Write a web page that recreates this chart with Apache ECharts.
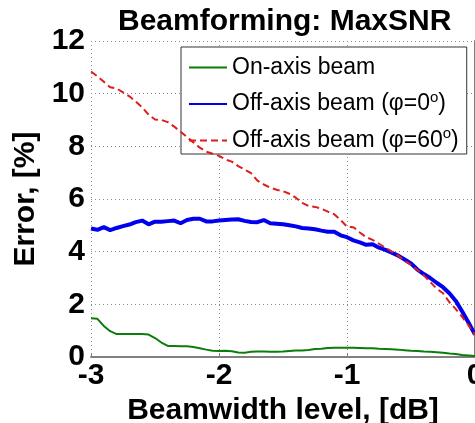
<!DOCTYPE html>
<html>
<head>
<meta charset="utf-8">
<script src="https://cdn.jsdelivr.net/npm/echarts@6/dist/echarts.min.js"></script>
<style>
  html, body { margin: 0; padding: 0; background: #ffffff; }
  #chart { width: 475px; height: 423px; }
</style>
</head>
<body>
<div id="chart"></div>
<script>
// Beamwidth level in dB (x positions of the samples)
const beamwidthDb = [
  -3.00, -2.95, -2.90, -2.85, -2.80, -2.75, -2.70, -2.65, -2.60, -2.55,
  -2.50, -2.45, -2.40, -2.35, -2.30, -2.25, -2.20, -2.15, -2.10, -2.05,
  -2.00, -1.95, -1.90, -1.85, -1.80, -1.75, -1.70, -1.65, -1.60, -1.55,
  -1.50, -1.45, -1.40, -1.35, -1.30, -1.25, -1.20, -1.15, -1.10, -1.05,
  -1.00, -0.95, -0.90, -0.85, -0.80, -0.75, -0.70, -0.65, -0.60, -0.55,
  -0.50, -0.45, -0.40, -0.35, -0.30, -0.25, -0.20, -0.15, -0.10, -0.05,
   0.00
];

// Error in percent, on-axis beam
const onAxisError = [
  1.47, 1.45, 1.18, 0.98, 0.87, 0.87, 0.87, 0.87, 0.87, 0.85,
  0.72, 0.55, 0.42, 0.42, 0.41, 0.41, 0.38, 0.33, 0.28, 0.24,
  0.23, 0.24, 0.22, 0.17, 0.16, 0.20, 0.21, 0.21, 0.20, 0.20,
  0.21, 0.23, 0.25, 0.25, 0.27, 0.30, 0.31, 0.34, 0.35, 0.35,
  0.35, 0.35, 0.34, 0.33, 0.33, 0.31, 0.30, 0.29, 0.28, 0.26,
  0.24, 0.23, 0.21, 0.20, 0.18, 0.16, 0.13, 0.11, 0.08, 0.06,
  0.04
];

// Error in percent, off-axis beam, phi = 0 deg
const offAxis0Error = [
  4.88, 4.83, 4.93, 4.82, 4.90, 4.97, 5.03, 5.12, 5.18, 5.04,
  5.14, 5.14, 5.16, 5.18, 5.08, 5.20, 5.25, 5.25, 5.15, 5.15,
  5.18, 5.20, 5.22, 5.23, 5.17, 5.13, 5.12, 5.20, 5.08, 5.06,
  5.04, 5.00, 4.96, 4.90, 4.88, 4.85, 4.80, 4.76, 4.76, 4.62,
  4.55, 4.43, 4.35, 4.26, 4.28, 4.15, 4.07, 3.96, 3.85, 3.70,
  3.55, 3.32, 3.15, 3.00, 2.82, 2.65, 2.42, 2.13, 1.73, 1.30,
  0.85
];

// Error in percent, off-axis beam, phi = 60 deg
const offAxis60Error = [
  10.84, 10.66, 10.45, 10.24, 10.20, 10.05, 9.90, 9.70, 9.48, 9.20,
   9.02,  9.00,  8.92,  8.75,  8.55,  8.35, 8.15, 7.95, 7.80, 7.72,
   7.64,  7.50,  7.42,  7.25,  7.12,  6.98, 6.70, 6.55, 6.43, 6.35,
   6.30,  6.20,  6.05,  5.85,  5.73,  5.70, 5.63, 5.52, 5.42, 5.20,
   4.95,  4.93,  4.73,  4.55,  4.45,  4.30, 4.15, 4.00, 3.85, 3.65,
   3.50,  3.30,  3.10,  2.85,  2.60,  2.42, 2.08, 1.82, 1.52, 1.20,
   0.84
];

const seriesNames = ['On-axis beam', 'Off-axis beam (\u03c6=0\u00b0)', 'Off-axis beam (\u03c6=60\u00b0)'];
const legendRich = [
  '{t|On-axis beam}',
  '{t|Off-axis beam (\u03c6=0}{s|o}{t|)}',
  '{t|Off-axis beam (\u03c6=60}{s|o}{t|)}'
];

const FONT = '"Liberation Sans", Arial, sans-serif';
const pairs = vals => beamwidthDb.map((x, i) => [x, vals[i]]);

const chart = echarts.init(document.getElementById('chart'), null, { renderer: 'canvas' });

chart.setOption({
  animation: false,
  backgroundColor: '#ffffff',
  title: {
    text: 'Beamforming: MaxSNR',
    left: 113,
    top: 2,
    textStyle: { fontFamily: FONT, fontSize: 30, fontWeight: 'bold', color: '#000' }
  },
  grid: { left: 91, right: 0, top: 41, bottom: 66, containLabel: false, outerBoundsMode: 'none' },
  legend: {
    orient: 'vertical',
    left: 181,
    top: 47,
    padding: [9, 8, 2, 7],
    itemGap: 11,
    itemWidth: 38,
    itemHeight: 14,
    backgroundColor: '#ffffff',
    borderColor: '#333333',
    borderWidth: 1,
    borderRadius: 0,
    itemStyle: { opacity: 0 },
    data: seriesNames,
    formatter: name => legendRich[seriesNames.indexOf(name)],
    textStyle: {
      fontFamily: FONT,
      fontSize: 23,
      color: '#000',
      rich: {
        t: { fontFamily: FONT, fontSize: 23, color: '#000', lineHeight: 28 },
        s: { fontFamily: FONT, fontSize: 15, color: '#000', verticalAlign: 'top', lineHeight: 14 }
      }
    }
  },
  xAxis: {
    type: 'value',
    min: -3,
    max: 0,
    interval: 1,
    name: 'Beamwidth level, [dB]',
    nameLocation: 'middle',
    nameGap: 27,
    nameTextStyle: { fontFamily: FONT, fontSize: 30, fontWeight: 'bold', color: '#000' },
    axisLine: { show: true, onZero: false, lineStyle: { color: '#808080', width: 2 } },
    axisTick: { show: true, inside: true, length: 4, lineStyle: { color: '#808080' } },
    axisLabel: { margin: 4, fontFamily: FONT, fontSize: 30, fontWeight: 'bold', color: '#000' },
    splitLine: { show: true, lineStyle: { color: '#8a8a8a', type: [1, 3], width: 1 } }
  },
  yAxis: {
    type: 'value',
    min: 0,
    max: 12,
    interval: 2,
    name: 'Error, [%]',
    nameLocation: 'middle',
    nameGap: 38,
    nameTextStyle: { fontFamily: FONT, fontSize: 30, fontWeight: 'bold', color: '#000' },
    axisLine: { show: true, lineStyle: { color: '#808080', width: 2 } },
    axisTick: { show: true, inside: true, length: 4, lineStyle: { color: '#808080' } },
    axisLabel: { margin: 6, fontFamily: FONT, fontSize: 30, fontWeight: 'bold', color: '#000' },
    splitLine: { show: true, lineStyle: { color: '#8a8a8a', type: [1, 3], width: 1 } }
  },
  series: [
    {
      name: seriesNames[0],
      type: 'line',
      data: pairs(onAxisError),
      symbol: 'none',
      lineStyle: { color: '#0a7d0a', width: 2 },
      itemStyle: { color: '#0a7d0a' },
      z: 3
    },
    {
      name: seriesNames[1],
      type: 'line',
      data: pairs(offAxis0Error),
      symbol: 'none',
      lineStyle: { color: '#0000ee', width: 4 },
      itemStyle: { color: '#0000ee' },
      z: 4
    },
    {
      name: seriesNames[2],
      type: 'line',
      data: pairs(offAxis60Error),
      symbol: 'none',
      lineStyle: { color: '#dd1c1c', width: 2, type: [7, 4] },
      itemStyle: { color: '#dd1c1c' },
      z: 5
    }
  ]
});
</script>
</body>
</html>
